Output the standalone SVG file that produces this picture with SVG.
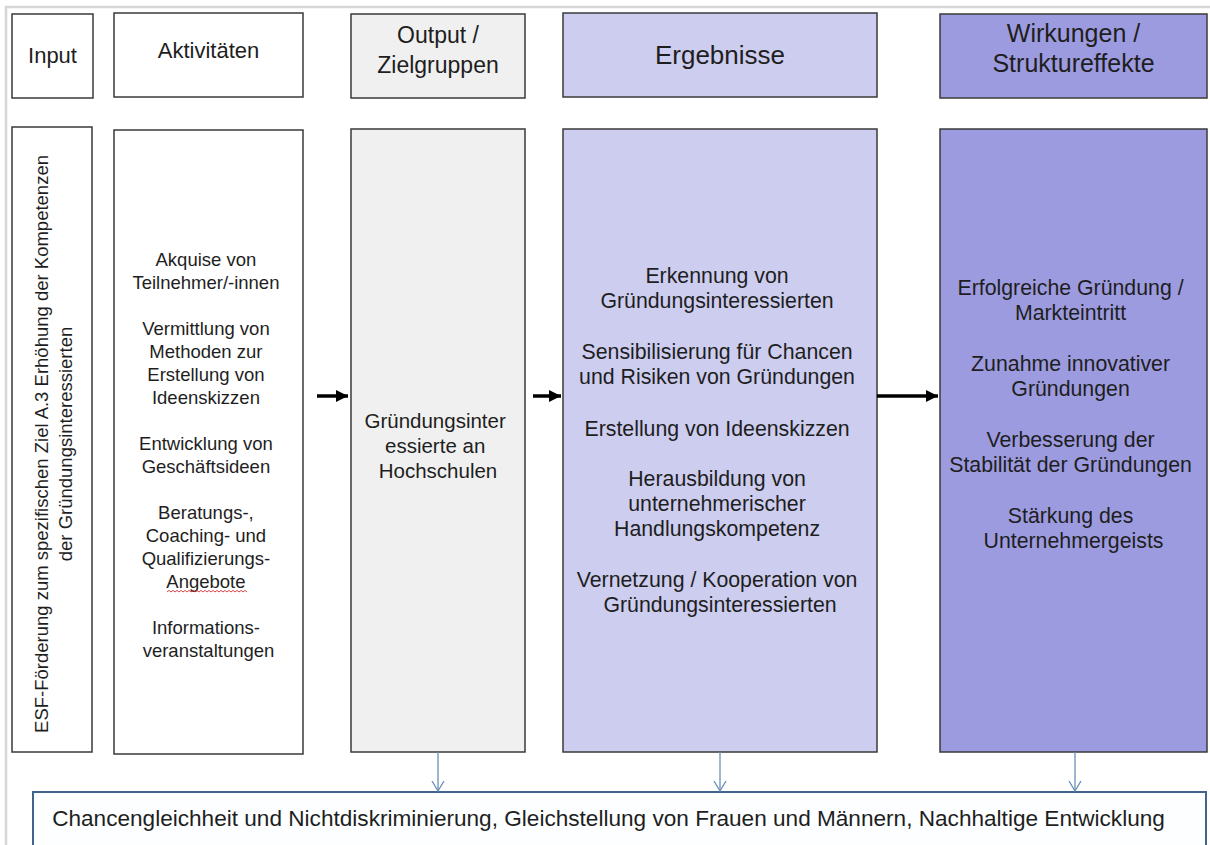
<svg xmlns="http://www.w3.org/2000/svg" width="1210" height="845" viewBox="0 0 1210 845">
  <style>
    text { font-family: "Liberation Sans", Arial, sans-serif; fill: #1e1e1e; text-anchor: middle; }
    .box { stroke: #3a3a3a; stroke-width: 1.5; }
    .white { fill: #ffffff; }
    .grey { fill: #f0f0f0; }
    .lav { fill: #cdcdef; }
    .viol { fill: #9d9bdf; }
    .h22 { font-size: 22px; }
    .h23 { font-size: 23px; }
    .h25 { font-size: 25px; }
    .h26 { font-size: 26px; }
    .b18 { font-size: 18.5px; }
    .b20 { font-size: 20.5px; }
    .b21 { font-size: 21.3px; }
    .arrow { stroke: #000000; stroke-width: 3.5; fill: none; }
    .down { stroke: #6b8fb8; stroke-width: 1.3; fill: none; }
  </style>
  <defs>
    <marker id="head" markerUnits="userSpaceOnUse" markerWidth="13" markerHeight="12" refX="12" refY="6" orient="auto">
      <path d="M0,0 L12,6 L0,12 z" fill="#000000"/>
    </marker>
    <marker id="vhead" markerUnits="userSpaceOnUse" markerWidth="12" markerHeight="14" refX="10" refY="7" orient="auto">
      <path d="M0,1 L10,7 L0,13" fill="none" stroke="#6b8fb8" stroke-width="1.3"/>
    </marker>
  </defs>
  <rect width="1210" height="845" fill="#ffffff"/>
  <g id="frame">
    <line x1="5" y1="7" x2="1210" y2="7" stroke="#d6d6d6" stroke-width="2.5"/>
    <line x1="6" y1="6" x2="6" y2="845" stroke="#d6d6d6" stroke-width="2.5"/>
  </g>

  <!-- Header row -->
  <g id="h-input">
    <rect class="box white" x="12" y="14" width="81" height="84"/>
    <text class="h22" x="52.5" y="63">Input</text>
  </g>
  <g id="h-aktivitaeten">
    <rect class="box white" x="114" y="13" width="189" height="84"/>
    <text class="h22" x="208.5" y="58">Aktivitäten</text>
  </g>
  <g id="h-output">
    <rect class="box grey" x="351" y="14" width="174" height="84"/>
    <text class="h23" x="438" y="43">Output /</text>
    <text class="h23" x="438" y="73">Zielgruppen</text>
  </g>
  <g id="h-ergebnisse">
    <rect class="box lav" x="563" y="13" width="314" height="84"/>
    <text class="h26" x="720" y="64">Ergebnisse</text>
  </g>
  <g id="h-wirkungen">
    <rect class="box viol" x="940" y="14" width="267" height="84"/>
    <text class="h25" x="1073.5" y="42">Wirkungen /</text>
    <text class="h25" x="1073.5" y="72">Struktureffekte</text>
  </g>

  <!-- Body row -->
  <g id="input">
    <rect class="box white" x="12" y="127" width="80" height="625"/>
    <text class="b18" transform="translate(48,444) rotate(-90)">ESF-Förderung zum spezifischen Ziel A.3 Erhöhung der Kompetenzen</text>
    <text class="b18" transform="translate(72,444) rotate(-90)">der Gründungsinteressierten</text>
  </g>
  <g id="aktivitaeten">
    <rect class="box white" x="114" y="130" width="189" height="624"/>
    <text class="b18">
      <tspan x="208.5" y="266">Akquise von</tspan>
      <tspan x="208.5" y="289">Teilnehmer/-innen</tspan>
      <tspan x="208.5" y="335">Vermittlung von</tspan>
      <tspan x="208.5" y="358">Methoden zur</tspan>
      <tspan x="208.5" y="381">Erstellung von</tspan>
      <tspan x="208.5" y="404">Ideenskizzen</tspan>
      <tspan x="208.5" y="450">Entwicklung von</tspan>
      <tspan x="208.5" y="473">Geschäftsideen</tspan>
      <tspan x="208.5" y="519">Beratungs-,</tspan>
      <tspan x="208.5" y="542">Coaching-  und</tspan>
      <tspan x="208.5" y="565">Qualifizierungs-</tspan>
      <tspan x="208.5" y="588">Angebote</tspan>
      <tspan x="208.5" y="634">Informations-</tspan>
      <tspan x="208.5" y="657">veranstaltungen</tspan>
    </text>
    <path d="M167,592 l2,-1.6 l2,1.6 l2,-1.6 l2,1.6 l2,-1.6 l2,1.6 l2,-1.6 l2,1.6 l2,-1.6 l2,1.6 l2,-1.6 l2,1.6 l2,-1.6 l2,1.6 l2,-1.6 l2,1.6 l2,-1.6 l2,1.6 l2,-1.6 l2,1.6 l2,-1.6 l2,1.6 l2,-1.6 l2,1.6 l2,-1.6 l2,1.6 l2,-1.6 l2,1.6 l2,-1.6 l2,1.6 l2,-1.6 l2,1.6 l2,-1.6 l2,1.6 l2,-1.6 l2,1.6 l2,-1.6 l2,1.6 l2,-1.6 l2,1.6" fill="none" stroke="#d03030" stroke-width="0.9"/>
  </g>
  <g id="output">
    <rect class="box grey" x="351" y="129" width="174" height="623"/>
    <text class="b20">
      <tspan x="438" y="428">Gründungsinter</tspan>
      <tspan x="438" y="453">essierte an</tspan>
      <tspan x="438" y="478">Hochschulen</tspan>
    </text>
  </g>
  <g id="ergebnisse">
    <rect class="box lav" x="563" y="129" width="314" height="623"/>
    <text class="b21">
      <tspan x="720" y="283">Erkennung von</tspan>
      <tspan x="720" y="308">Gründungsinteressierten</tspan>
      <tspan x="720" y="359">Sensibilisierung für Chancen</tspan>
      <tspan x="720" y="384">und Risiken von Gründungen</tspan>
      <tspan x="720" y="436">Erstellung von Ideenskizzen</tspan>
      <tspan x="720" y="486">Herausbildung von</tspan>
      <tspan x="720" y="511">unternehmerischer</tspan>
      <tspan x="720" y="536">Handlungskompetenz</tspan>
      <tspan x="720" y="587">Vernetzung / Kooperation von</tspan>
      <tspan x="720" y="612">Gründungsinteressierten</tspan>
    </text>
  </g>
  <g id="wirkungen">
    <rect class="box viol" x="940" y="129" width="267" height="623"/>
    <text class="b21">
      <tspan x="1073.5" y="295">Erfolgreiche Gründung /</tspan>
      <tspan x="1073.5" y="320">Markteintritt</tspan>
      <tspan x="1073.5" y="371">Zunahme innovativer</tspan>
      <tspan x="1073.5" y="396">Gründungen</tspan>
      <tspan x="1073.5" y="447">Verbesserung der</tspan>
      <tspan x="1073.5" y="472">Stabilität der Gründungen</tspan>
      <tspan x="1073.5" y="523">Stärkung des</tspan>
      <tspan x="1073.5" y="548">Unternehmergeists</tspan>
    </text>
  </g>

  <g id="querschnitt">
    <rect x="33" y="792" width="1173" height="70" fill="#fdfeff" stroke="#41648e" stroke-width="2"/>
    <text style="font-size:22.6px" x="608.5" y="826">Chancengleichheit und Nichtdiskriminierung, Gleichstellung von Frauen und Männern, Nachhaltige Entwicklung</text>
  </g>

  <!-- Connectors -->
  <g id="connectors">
    <line class="arrow" x1="317" y1="396" x2="348" y2="396" marker-end="url(#head)"/>
    <line class="arrow" x1="533" y1="396" x2="561" y2="396" marker-end="url(#head)"/>
    <line class="arrow" x1="877" y1="396" x2="938" y2="396" marker-end="url(#head)"/>
    <line class="down" x1="438" y1="752" x2="438" y2="791" marker-end="url(#vhead)"/>
    <line class="down" x1="720" y1="752" x2="720" y2="791" marker-end="url(#vhead)"/>
    <line class="down" x1="1075" y1="752" x2="1075" y2="791" marker-end="url(#vhead)"/>
  </g>
</svg>
